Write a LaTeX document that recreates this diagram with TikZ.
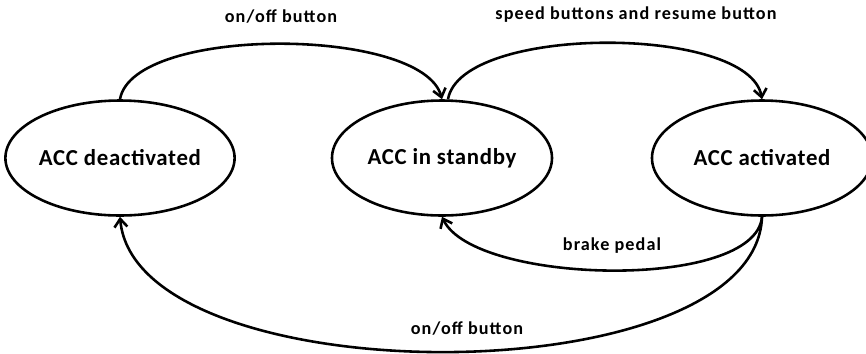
\documentclass[tikz,border=0pt]{standalone}
\usepackage{fontspec}
\setmainfont{Carlito}
\usetikzlibrary{arrows.meta,shapes.geometric}

\begin{document}
\begin{tikzpicture}[x=0.03cm,y=-0.03cm,>={Straight Barb[length=7pt,width=11pt]},
  state/.style={draw,ellipse,line width=2.2pt,minimum width=6.6cm,minimum height=3.45cm,inner sep=0pt,font=\fontsize{19.5}{22}\selectfont\bfseries\addfontfeatures{LetterSpace=3}},
  trans/.style={->,line width=2.2pt},
  lbl/.style={font=\fontsize{15.5}{18}\selectfont\bfseries\addfontfeatures{LetterSpace=6},inner sep=1pt}]
\useasboundingbox (0,0) rectangle (866,353);
\node[state] (deact) at (120,158) {ACC deactivated};
\node[state] (standby) at (442,158) {ACC in standby};
\node[state] (act) at (762,158) {ACC activated};
\draw[trans] (deact.north) to[out=80,in=105,looseness=0.6] (standby.north);
\draw[trans] (standby.north) ++(6,0) coordinate (sb) (sb) to[out=80,in=100,looseness=0.62] (act.north);
\draw[trans] (act.south) to[out=-95,in=-65,looseness=0.6] (standby.south);
\draw[trans] (act.south) to[out=-92,in=-85,looseness=0.72] (deact.south);
% transition labels
\node[lbl] (l1) at (281,17) {on/off button};
\node[lbl] (l2) at (636,15) {speed buttons and resume button};
\node[lbl] (l3) at (612,246) {brake pedal};
\node[lbl] (l4) at (467,329) {on/off button};
\end{tikzpicture}
\end{document}
